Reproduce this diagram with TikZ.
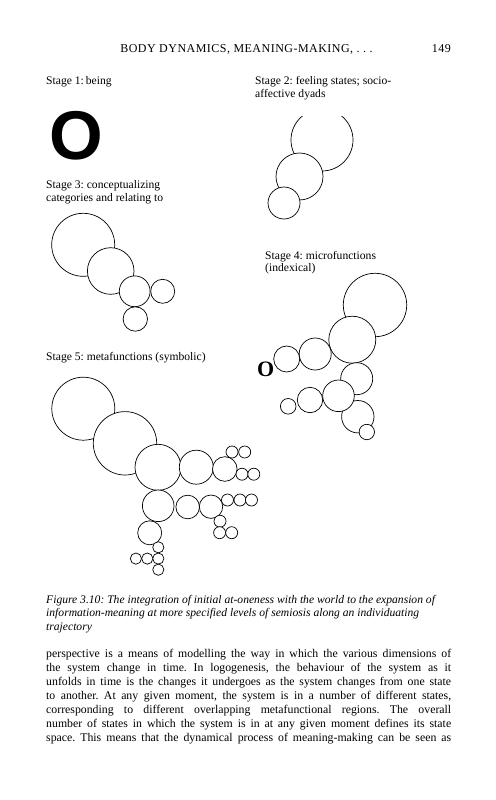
\documentclass[tikz,border=0pt]{standalone}
\usepackage{fontspec}
\setmainfont{Liberation Serif}
\newfontfamily\bigsans{Liberation Sans}
\frenchspacing
\tikzset{
  bub/.style  = {draw, fill=white, line width=0.7pt},
  lbl/.style  = {anchor=base west, inner sep=0pt, align=left,
                 font=\fontsize{11.6}{12.7}\selectfont},
  hdr/.style  = {inner sep=0pt, font=\fontsize{12}{14}\selectfont\addfontfeatures{LetterSpace=4}},
  capt/.style = {anchor=base west, inner sep=0pt, align=left,
                 font=\fontsize{11.6}{13.4}\selectfont\itshape},
  body/.style = {anchor=base west, inner sep=0pt, text width=405pt, align=justify,
                 font=\fontsize{11.8}{14.1}\selectfont},
}

\begin{document}
\begin{tikzpicture}[x=1pt, y=-1pt]
  \useasboundingbox (0,0) rectangle (495,800);

  % running head
  \node[hdr, anchor=base] (head) at (246.5,52.7) {BODY DYNAMICS, MEANING-MAKING, . . .};
  \node[hdr, anchor=base east] (page) at (451,52.7) {149};

  % stage 1
  \node[lbl] (s1) at (46,84.3) {Stage 1:\,being};
  \node[anchor=base, inner sep=0pt, font=\bigsans\bfseries\fontsize{69}{69}\selectfont] (one) at (76,159.5) {O};

  % stage 2 (labels sit on their last line)
  \node[lbl] (s2) at (255,97) {Stage 2: feeling states; socio-\\affective dyads};
  \begin{scope}
    \clip (250,116) rectangle (400,230);
    \draw[bub] (322,140) circle (31pt);
  \end{scope}
  \draw[bub] (299.5,176.5) circle (23.5pt);
  \draw[bub] (284,203) circle (16pt);

  % stage 3
  \node[lbl] (s3) at (46,201.5) {Stage 3: conceptualizing\\categories and relating to};
  \foreach \cx/\cy/\rr in {83.2/244.8/31.5, 110.7/271/23.3, 134.7/291.3/15.4,
                           162.7/291.3/12, 135.3/319/12.2}
    \draw[bub] (\cx,\cy) circle (\rr pt);

  % stage 4
  \node[lbl] (s4) at (265,271.8) {Stage 4: microfunctions\\(indexical)};
  \foreach \cx/\cy/\rr in {375/305/31.7, 352.3/339.7/23.5, 315.2/354/16, 286.7/359/13,
                           356.7/378.7/16, 357.8/416.7/16.2, 338.5/395.8/15.8,
                           310/400/12.7, 288.2/406.3/7.8, 366.8/432/7.7}
    \draw[bub] (\cx,\cy) circle (\rr pt);
  \node[anchor=base, inner sep=0pt, font=\fontsize{22}{22}\selectfont\bfseries] (o4) at (265.8,376.7) {O};

  % stage 5
  \node[lbl] (s5) at (46,360) {Stage 5: metafunctions (symbolic)};
  \foreach \cx/\cy/\rr in {83.3/408.7/31.5, 125/443.3/31.7, 158/467.3/23,
                           196.3/467.2/17, 224.8/469/12.3,
                           232/452/6, 244.7/452/6, 242/474.2/6, 253.8/474.2/6,
                           158.2/505.8/15.8, 187.7/507/11.8, 211/506.7/11.7,
                           227.5/500/6, 240/500/6, 251.5/500/6,
                           220/521.2/6, 219.6/532.7/6, 231.7/532.7/6,
                           149.7/532.8/12,
                           158.3/547.3/5.6, 158.3/558.6/5.6, 158.3/569.7/5.6,
                           147.3/558.6/5.6, 135.9/558.6/5.6}
    \draw[bub] (\cx,\cy) circle (\rr pt);

  % caption
  \node[capt] (cap) at (46,630) {Figure 3.10: The integration of initial at-oneness with the world to the expansion of\\
    information-meaning at more specified levels of semiosis along an individuating\\
    trajectory};

  % running text
  \node[body] (txt) at (46,657.3) {\hyphenpenalty=10000 \tolerance=10000
    perspective is a means of modelling the way in which the various dimensions of\linebreak
    the system change in time. In logogenesis, the behaviour of the system as it\linebreak
    unfolds in time is the changes it undergoes as the system changes from one state\linebreak
    to another. At any given moment, the system is in a number of different states,\linebreak
    corresponding to different overlapping metafunctional regions. The overall\linebreak
    number of states in which the system is in at any given moment defines its state\linebreak
    space. This means that the dynamical process of meaning-making can be seen as\linebreak\mbox{}};
\end{tikzpicture}
\end{document}
